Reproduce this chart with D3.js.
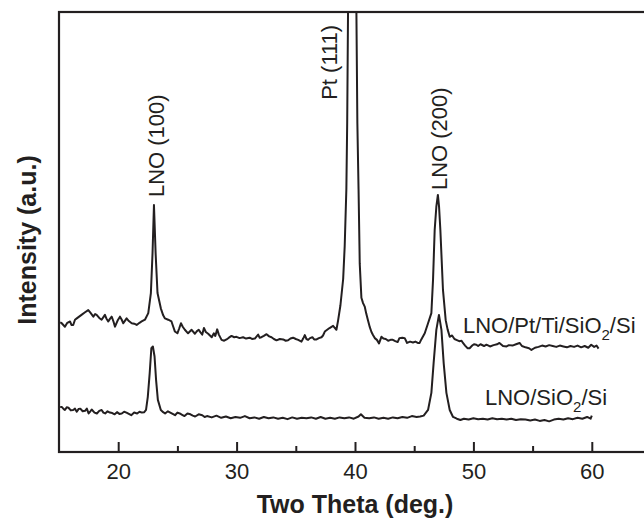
<!DOCTYPE html>
<html>
<head>
<meta charset="utf-8">
<script src="https://cdn.jsdelivr.net/npm/d3@7"></script>
<style>
  html, body { margin: 0; padding: 0; background: #fff; }
  svg { display: block; }
  text { font-family: "Liberation Sans", Arial, Helvetica, sans-serif; fill: #231f20; }
</style>
</head>
<body>
<svg id="chart" width="644" height="520"></svg>
<script>
// ---- Data ----
const xTicks = [20, 30, 40, 50, 60];
const xMinorTicks = [25, 35, 45, 55];

// LNO/Pt/Ti/SiO2/Si : [2θ, intensity a.u.]
const seriesPt = [
  [15.1,29.6],[15.23,29.4],[15.5,28.6],[15.7,29.5],[15.93,29.8],[16.05,29.0],[16.2,29.0],[16.35,30.2],
  [16.5,30.5],[16.7,30.9],[16.9,31.3],[17.2,31.9],[17.47,32.4],[17.65,31.8],[17.9,30.9],[18.05,31.5],
  [18.18,31.3],[18.4,30.6],[18.6,30.2],[18.75,30.8],[18.88,31.3],[19.0,30.5],[19.16,29.8],[19.3,30.4],
  [19.45,30.9],[19.6,29.8],[19.73,28.6],[19.95,30.0],[20.15,30.9],[20.3,30.2],[20.43,29.4],[20.58,30.0],
  [20.71,30.5],[20.9,29.9],[21.14,29.4],[21.35,29.3],[21.56,29.0],[21.8,29.5],[21.98,29.8],[22.26,30.2],
  [22.54,31.7],[22.76,36.3],[22.9,45.4],[23.02,56.4],[23.16,45.4],[23.32,36.3],[23.6,32.8],[23.8,31.2],
  [23.95,30.5],[24.22,30.2],[24.5,29.8],[24.65,28.6],[24.79,27.5],[25.0,27.1],[25.15,28.2],[25.3,29.4],
  [25.45,28.6],[25.63,27.9],[25.9,27.1],[26.05,27.5],[26.2,27.9],[26.48,27.0],[26.65,27.6],[26.8,27.9],
  [26.95,27.3],[27.1,26.8],[27.24,28.3],[27.4,27.4],[27.6,27.0],[27.9,26.2],[28.08,27.1],[28.2,26.5],
  [28.36,28.0],[28.5,26.8],[28.73,25.6],[28.95,25.4],[29.15,25.7],[29.35,26.1],[29.57,26.5],[29.8,26.2],
  [29.99,26.3],[30.25,26.0],[30.55,26.2],[30.8,25.9],[31.1,26.1],[31.3,25.8],[31.54,25.9],[31.82,26.8],
  [31.95,26.1],[32.1,26.2],[32.3,26.5],[32.53,26.9],[32.75,26.4],[32.95,26.2],[33.15,25.8],[33.37,25.5],
  [33.65,25.8],[33.93,25.7],[34.15,25.4],[34.35,25.5],[34.55,25.9],[34.77,26.1],[35.0,25.8],[35.2,25.6],
  [35.48,25.2],[35.62,25.9],[35.76,26.7],[35.9,25.8],[36.04,25.6],[36.2,26.0],[36.4,26.2],[36.55,25.7],
  [36.75,25.7],[36.95,26.0],[37.17,26.2],[37.3,26.6],[37.45,27.5],[37.65,27.9],[37.85,28.3],[38.15,28.8],
  [38.43,27.9],[38.57,30.0],[38.77,33.5],[39.0,39.5],[39.13,47],[39.27,60],[39.34,75],[39.41,100],
  [39.75,500],[40.12,100],[40.2,75],[40.3,60],[40.4,43],[40.54,35.2],[40.68,34.0],[40.82,33.2],
  [40.95,31.6],[41.1,30.0],[41.25,28.5],[41.39,27.4],[41.52,26.7],[41.67,26.0],[41.85,25.6],[42.03,24.8],
  [42.23,26.3],[42.4,25.9],[42.6,25.8],[42.8,25.4],[43.0,25.6],[43.2,25.6],[43.4,25.3],[43.6,25.1],
  [43.75,26.0],[44.0,26.1],[44.2,26.0],[44.4,24.9],[44.65,25.2],[44.9,25.0],[45.1,25.2],[45.3,24.9],
  [45.46,24.9],[45.6,25.7],[45.89,27.1],[46.17,29.4],[46.45,31.7],[46.59,39.3],[46.73,50.7],[46.87,56],
  [47.0,58.7],[47.1,56],[47.21,50.7],[47.43,37],[47.66,30.1],[47.82,28.0],[48.0,26.3],[48.2,26.6],
  [48.4,25.8],[48.56,25.6],[48.8,25.3],[49.0,25.4],[49.12,24.9],[49.3,24.3],[49.5,23.7],[49.68,23.7],
  [49.9,24.3],[50.05,24.6],[50.25,24.5],[50.4,24.2],[50.6,24.6],[50.9,24.2],[51.1,24.5],[51.4,24.1],
  [51.7,24.4],[52.0,24.6],[52.2,24.9],[52.5,24.2],[52.8,24.1],[53.0,24.4],[53.3,24.3],[53.6,24.6],
  [53.9,24.9],[54.1,24.2],[54.4,23.9],[54.7,23.7],[54.9,23.3],[55.2,23.8],[55.5,24.0],[55.8,24.3],
  [56.1,24.1],[56.4,24.4],[56.7,24.2],[57.0,24.0],[57.3,24.3],[57.6,24.1],[57.9,23.9],[58.2,24.2],
  [58.5,24.0],[58.8,24.3],[59.1,23.9],[59.4,24.2],[59.7,23.8],[59.95,24.5],[60.2,24.0],[60.4,24.3],
  [60.57,23.6]
];

// LNO/SiO2/Si : [2θ, intensity a.u.]
const seriesSi = [
  [15.1,10.3],[15.23,10.3],[15.4,9.8],[15.5,9.6],[15.65,10.2],[15.8,10.1],[16.0,9.5],[16.2,9.6],
  [16.35,9.9],[16.5,9.2],[16.65,9.8],[16.8,9.9],[17.0,9.3],[17.2,9.4],[17.35,9.9],[17.5,8.8],
  [17.65,9.3],[17.76,9.7],[18.0,9.0],[18.2,8.8],[18.4,9.4],[18.6,9.6],[18.75,9.0],[18.9,8.8],
  [19.1,9.3],[19.3,9.0],[19.5,8.9],[19.7,8.6],[19.9,9.1],[20.1,8.7],[20.3,8.8],[20.5,9.2],
  [20.7,9.0],[20.9,8.7],[21.1,8.4],[21.35,9.0],[21.6,8.8],[21.8,9.2],[22.0,9.0],[22.2,9.1],
  [22.35,9.6],[22.5,12.6],[22.66,18.0],[22.8,23.7],[22.93,24.1],[23.07,21.8],[23.2,16.4],[23.35,11.9],
  [23.6,9.6],[23.8,9.1],[23.96,8.8],[24.2,9.3],[24.4,9.0],[24.6,8.7],[24.8,8.4],[25.0,9.0],
  [25.2,8.8],[25.4,8.5],[25.6,8.2],[25.85,8.8],[26.1,8.6],[26.3,8.3],[26.5,8.1],[26.8,8.6],
  [27.1,8.4],[27.3,8.0],[27.5,8.2],[27.9,7.9],[28.3,8.3],[28.7,7.8],[29.1,8.1],[29.5,7.7],
  [29.9,8.0],[30.3,7.8],[30.7,8.2],[31.1,7.7],[31.5,7.9],[31.9,7.6],[32.3,8.0],[32.7,7.7],
  [33.1,7.9],[33.5,7.6],[33.9,7.8],[34.3,7.5],[34.7,7.9],[35.1,7.6],[35.5,7.8],[35.9,7.7],
  [36.3,7.9],[36.7,7.6],[37.1,8.0],[37.5,7.6],[37.9,7.8],[38.3,7.6],[38.7,7.9],[39.1,7.7],
  [39.5,7.9],[39.9,7.6],[40.3,8.1],[40.5,8.6],[40.8,7.8],[41.2,7.7],[41.6,7.9],[42.0,7.6],
  [42.4,7.8],[42.8,7.6],[43.2,7.9],[43.6,7.7],[44.0,8.0],[44.4,7.8],[44.8,8.2],[45.2,8.0],
  [45.5,8.1],[45.8,8.3],[46.17,9.6],[46.45,13.5],[46.64,20.3],[46.87,27.9],[47.09,31.3],[47.3,27.9],
  [47.49,20.3],[47.72,13.5],[48.0,9.6],[48.28,8.0],[48.6,7.6],[48.9,7.3],[49.2,7.6],[49.6,7.4],
  [50.0,7.7],[50.4,7.5],[50.8,7.6],[51.2,7.4],[51.6,7.7],[52.0,7.5],[52.4,7.6],[52.8,7.4],
  [53.2,7.6],[53.6,7.3],[54.0,7.5],[54.4,7.4],[54.8,7.2],[55.2,7.4],[55.6,7.1],[56.0,7.3],
  [56.4,7.0],[56.8,7.4],[57.2,7.6],[57.6,7.4],[58.0,7.7],[58.4,7.5],[58.8,7.8],[59.2,7.6],
  [59.6,8.0],[59.9,7.6],[60.0,8.3]
];

// Peak annotations
const peakLabels = [
  { x: 23.19, y: 58.2, text: "LNO (100)" },
  { x: 37.8,  y: 80.4, text: "Pt (111)" },
  { x: 47.15, y: 59.8, text: "LNO (200)" }
];
// Series labels
const seriesLabels = [
  { x: 49.12, y: 27.1, parts: ["LNO/Pt/Ti/SiO", "2", "/Si"] },
  { x: 50.98, y: 10.7, parts: ["LNO/SiO", "2", "/Si"] }
];

// ---- Layout ----
const mLeft = 59, mRight = 651, mTop = 12, mBottom = 452;
const ink = "#231f20";

const svg = d3.select("#chart");
const x = d3.scaleLinear().domain([15, 65]).range([mLeft, mRight]);
const y = d3.scaleLinear().domain([0, 100]).range([mBottom, 14]);

svg.append("defs").append("clipPath").attr("id", "plotclip")
  .append("rect").attr("x", mLeft).attr("y", mTop).attr("width", mRight - mLeft).attr("height", mBottom - mTop);

// Data lines
const line = d3.line().x(d => x(d[0])).y(d => y(d[1]));
const g = svg.append("g").attr("clip-path", "url(#plotclip)");
[seriesPt, seriesSi].forEach(s => {
  g.append("path").datum(s).attr("d", line)
    .attr("fill", "none").attr("stroke", ink).attr("stroke-width", 2)
    .attr("stroke-linejoin", "round");
});

// Frame
svg.append("rect").attr("x", mLeft).attr("y", mTop)
  .attr("width", mRight - mLeft).attr("height", mBottom - mTop)
  .attr("fill", "none").attr("stroke", ink).attr("stroke-width", 2.2);

// Bottom axis (inward ticks)
const axis = d3.axisBottom(x).tickValues(xTicks).tickSizeInner(-10).tickSizeOuter(0).tickPadding(11)
  .tickFormat(d3.format("d"));
const ax = svg.append("g").attr("transform", `translate(0,${mBottom})`).call(axis);
ax.select(".domain").remove();
ax.selectAll(".tick line").attr("stroke", ink).attr("stroke-width", 2);
ax.selectAll(".tick text").attr("font-size", 22).attr("fill", ink)
  .attr("font-family", '"Liberation Sans", Arial, sans-serif');

const axMinor = d3.axisBottom(x).tickValues(xMinorTicks).tickSizeInner(-6).tickSizeOuter(0).tickFormat("");
const am = svg.append("g").attr("transform", `translate(0,${mBottom})`).call(axMinor);
am.select(".domain").remove();
am.selectAll(".tick line").attr("stroke", ink).attr("stroke-width", 2);

// Axis titles
svg.append("text").attr("x", x(40)).attr("y", 513).attr("text-anchor", "middle")
  .attr("font-size", 25).attr("font-weight", "bold").text("Two Theta (deg.)");
svg.append("text").attr("transform", `translate(36,240) rotate(-90)`).attr("text-anchor", "middle")
  .attr("font-size", 25).attr("font-weight", "bold").text("Intensity (a.u.)");

// Peak labels (rotated)
peakLabels.forEach(p => {
  svg.append("text")
    .attr("transform", `translate(${x(p.x)},${y(p.y)}) rotate(-90)`)
    .attr("text-anchor", "start").attr("dy", "0.35em")
    .attr("font-size", 22).text(p.text);
});

// Series labels with subscript
seriesLabels.forEach(s => {
  const t = svg.append("text").attr("x", x(s.x)).attr("y", y(s.y)).attr("font-size", 22);
  t.append("tspan").text(s.parts[0]);
  t.append("tspan").attr("font-size", 15).attr("dy", 7).text(s.parts[1]);
  t.append("tspan").attr("dy", -7).text(s.parts[2]);
});
</script>
</body>
</html>
